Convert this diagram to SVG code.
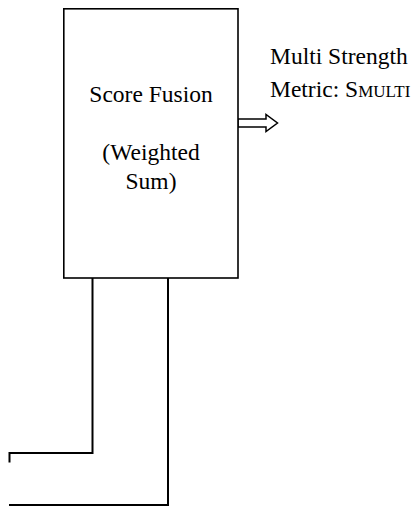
<svg xmlns="http://www.w3.org/2000/svg" width="414" height="506" viewBox="0 0 414 506">
<style>
.box{fill:#fff;stroke:#000;stroke-width:1.6}
.wire{fill:none;stroke:#000;stroke-width:2}
.arrow{fill:#fff;stroke:#000;stroke-width:1.5}
text{font-family:"Liberation Serif","Times New Roman",serif;font-size:23.5px;fill:#000}
</style>
<rect width="414" height="506" fill="#fff"/>
<g id="connectors">
<path class="wire" d="M92.5,278 V453 H9.5 V462.5"/>
<path class="wire" d="M168,278 V505 H9"/>
<polygon class="arrow" points="238,119 266,119 266,114.5 277.5,123 266,131.5 266,127 238,127"/>
</g>
<g id="score-fusion">
<rect class="box" x="63.8" y="8.8" width="174.2" height="269.2"/>
<text x="151" y="102" text-anchor="middle">Score Fusion</text>
<text x="151" y="160" text-anchor="middle">(Weighted</text>
<text x="151" y="189" text-anchor="middle">Sum)</text>
</g>
<g id="output-label">
<text x="270" y="64">Multi Strength</text>
<text x="270" y="97">Metric: S<tspan font-size="17">MULTI</tspan></text>
</g>
</svg>
